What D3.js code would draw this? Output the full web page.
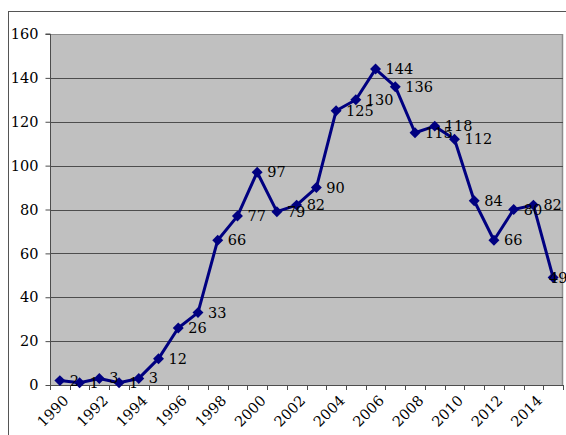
<!DOCTYPE html>
<html lang="en">
<head>
    <meta charset="UTF-8">
    <title>Chart</title>
    <script src="https://d3js.org/d3.v7.min.js"></script>
    <style>
        body { margin: 0; background: white; }
    </style>
</head>
<body>
<script>
    const width = 566;
    const height = 435;

    const years = [1990, 1991, 1992, 1993, 1994, 1995, 1996, 1997, 1998, 1999, 2000, 2001, 2002,
        2003, 2004, 2005, 2006, 2007, 2008, 2009, 2010, 2011, 2012, 2013, 2014, 2015];
    const values = [2, 1, 3, 1, 3, 12, 26, 33, 66, 77, 97, 79, 82,
        90, 125, 130, 144, 136, 115, 118, 112, 84, 66, 80, 82, 49];
    const yTicks = [0, 20, 40, 60, 80, 100, 120, 140, 160];

    const plot = {left: 50, top: 34, right: 563, bottom: 385};
    const serif = "'DejaVu Serif', 'Liberation Serif', serif";

    const svg = d3.select("body").append("svg").attr("width", width).attr("height", height)
        .style("font-family", serif).style("font-size", "14.5px");

    // outer chart frame
    svg.append("rect").attr("x", 8.5).attr("y", 11.5).attr("width", 600).attr("height", 500)
        .attr("fill", "none").attr("stroke", "#555").attr("stroke-width", 1);

    const x = d3.scaleBand().domain(years).range([plot.left, plot.right]);
    const y = d3.scaleLinear().domain([0, 160]).range([plot.bottom, plot.top]);

    // plot background
    svg.append("rect").attr("x", plot.left).attr("y", plot.top)
        .attr("width", plot.right - plot.left).attr("height", plot.bottom - plot.top)
        .attr("fill", "#c0c0c0");
    svg.append("line").attr("x1", plot.right - 0.5).attr("x2", plot.right - 0.5)
        .attr("y1", plot.top).attr("y2", plot.bottom).attr("stroke", "#8c8c8c").attr("stroke-width", 1.5);

    // gridlines
    svg.append("g").selectAll("line").data(yTicks).join("line")
        .attr("x1", plot.left).attr("x2", plot.right)
        .attr("y1", d => Math.round(y(d)) + 0.5).attr("y2", d => Math.round(y(d)) + 0.5)
        .attr("stroke", d => d === 160 ? "#8c8c8c" : "#4d4d4d").attr("stroke-width", 1);

    // y axis
    const yAxis = svg.append("g").attr("transform", `translate(${plot.left + 0.5},0)`)
        .call(d3.axisLeft(y).tickValues(yTicks).tickSize(5).tickPadding(7));
    yAxis.attr("font-family", null).attr("font-size", null);
    yAxis.select(".domain").attr("stroke", "#4d4d4d").attr("d", `M-5,${plot.top}H0V${plot.bottom}`);
    yAxis.selectAll(".tick line").attr("stroke", "#4d4d4d");
    yAxis.selectAll("text").attr("fill", "#000");

    // x axis: ticks between categories
    const xg = svg.append("g");
    xg.append("line").attr("x1", plot.left).attr("x2", plot.right)
        .attr("y1", plot.bottom + 0.5).attr("y2", plot.bottom + 0.5).attr("stroke", "#4d4d4d");
    xg.selectAll("line.tk").data(d3.range(years.length + 1)).join("line").attr("class", "tk")
        .attr("x1", i => Math.round(plot.left + i * x.step()) + 0.5)
        .attr("x2", i => Math.round(plot.left + i * x.step()) + 0.5)
        .attr("y1", plot.bottom).attr("y2", plot.bottom + 5).attr("stroke", "#4d4d4d");
    xg.selectAll("text").data(years.filter((d, i) => i % 2 === 0)).join("text")
        .attr("transform", d => `translate(${x(d) + x.bandwidth() / 2 + 6},${plot.bottom + 13}) rotate(-45)`)
        .attr("text-anchor", "end")
        .attr("dy", "0.35em")
        .text(d => d);

    const data = years.map((yr, i) => ({year: yr, value: values[i]}));

    const line = d3.line()
        .x(d => x(d.year) + x.bandwidth() / 2)
        .y(d => y(d.value));

    svg.append("path").datum(data).attr("d", line)
        .attr("fill", "none").attr("stroke", "#000080").attr("stroke-width", 3)
        .attr("stroke-linejoin", "round");

    svg.append("g").selectAll("path").data(data).join("path")
        .attr("d", d3.symbol(d3.symbolSquare, 60))
        .attr("transform", d => `translate(${x(d.year) + x.bandwidth() / 2},${y(d.value)}) rotate(45)`)
        .attr("fill", "#000080");

    // data labels, the last one pushed back in like in the original
    svg.append("g").selectAll("text").data(data).join("text")
        .attr("x", d => Math.min(x(d.year) + x.bandwidth() / 2 + 10, 549))
        .attr("y", d => y(d.value))
        .attr("dy", "0.35em")
        .text(d => d.value);
</script>
</body>
</html>
